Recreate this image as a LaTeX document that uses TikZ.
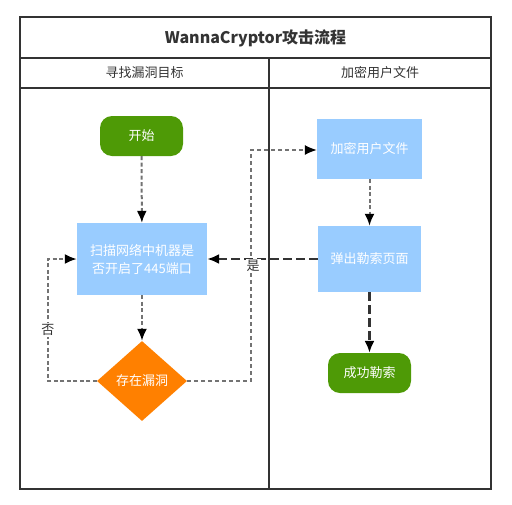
\documentclass[tikz,border=0pt]{standalone}
\usepackage{fontspec}
\setmainfont{Noto Sans CJK SC}
\usetikzlibrary{arrows.meta, shapes, positioning, calc}
\definecolor{FrameGray}{RGB}{51,51,51}
\definecolor{StartGreen}{RGB}{78,154,6}
\definecolor{BoxBlue}{RGB}{153,204,255}
\definecolor{DecOrange}{RGB}{255,128,0}
\definecolor{LineGray}{RGB}{115,115,115}

\tikzset{
    terminal/.style={rounded corners=12pt, fill=StartGreen, text=white, minimum width=83pt, minimum height=40pt, font=\fontsize{13pt}{15pt}\selectfont},
    process/.style={fill=BoxBlue, text=white, align=center, font=\fontsize{13pt}{18pt}\selectfont},
    decision/.style={diamond, fill=DecOrange, text=white, inner sep=0pt, minimum width=90pt, minimum height=80pt, font=\fontsize{13pt}{15pt}\selectfont},
    arrowhead/.style={-{Latex[length=12pt 0, width=10pt 0, black]}},
    flowshort/.style={arrowhead, draw=LineGray, line width=2pt, dash pattern=on 4pt off 2.5pt},
    flowlong/.style={arrowhead, draw=FrameGray, line width=2.2pt, dash pattern=on 9pt off 4pt},
    flowthin/.style={arrowhead, draw=LineGray, line width=1.3pt, dash pattern=on 4pt off 3pt},
    tag/.style={fill=white, inner sep=1pt, text=FrameGray, font=\fontsize{13pt}{15pt}\selectfont}
}

\begin{document}
\begin{tikzpicture}[x=1pt, y=-1pt]
        \useasboundingbox (0,0) rectangle (512,504);
        % frame and swimlanes
        \draw[FrameGray, line width=2pt] (20,17) rectangle (491,489);
        \draw[FrameGray, line width=2pt] (20,58) -- (491,58);
        \draw[FrameGray, line width=2pt] (20,88) -- (491,88);
        \draw[FrameGray, line width=2pt] (269,58) -- (269,489);
        \node (title) at (255.5,38) {\fontsize{16pt}{19pt}\selectfont\bfseries\color{FrameGray} WannaCryptor攻击流程};
        \node (laneA) at (144.5,73) {\fontsize{13pt}{15pt}\selectfont\color{FrameGray} 寻找漏洞目标};
        \node (laneB) at (380,73) {\fontsize{13pt}{15pt}\selectfont\color{FrameGray} 加密用户文件};

        % nodes
        \node[terminal] (start) at (141.5,136) {开始};
        \node[process, minimum width=130pt, minimum height=72pt] (scan) at (142,259) {扫描网络中机器是\\否开启了445端口};
        \node[decision] (vuln) at (142,381) {存在漏洞};
        \node[process, minimum width=105pt, minimum height=60pt] (encrypt) at (369.5,149) {加密用户文件};
        \node[process, minimum width=103pt, minimum height=66pt] (popup) at (369.5,259) {弹出勒索页面};
        \node[terminal] (success) at (369.5,373) {成功勒索};

        % connectors
        \draw[flowshort] (start) -- (scan);
        \draw[flowshort] (scan) -- (vuln);
        \draw[flowshort] (vuln.west) -- (48,381) -- (48,259) -- (scan.west);
        \node[tag] (no) at (48,330) {否};
        \draw[flowthin] (vuln.east) -- (251,381) -- (251,150) -- (encrypt.west |- 0,150);
        \draw[flowshort] (encrypt) -- (popup);
        \draw[flowlong] (popup.west) -- (scan.east);
        \node[tag] (yes) at (253,266) {是};
        \draw[flowlong] (popup) -- (success);
\end{tikzpicture}
\end{document}
